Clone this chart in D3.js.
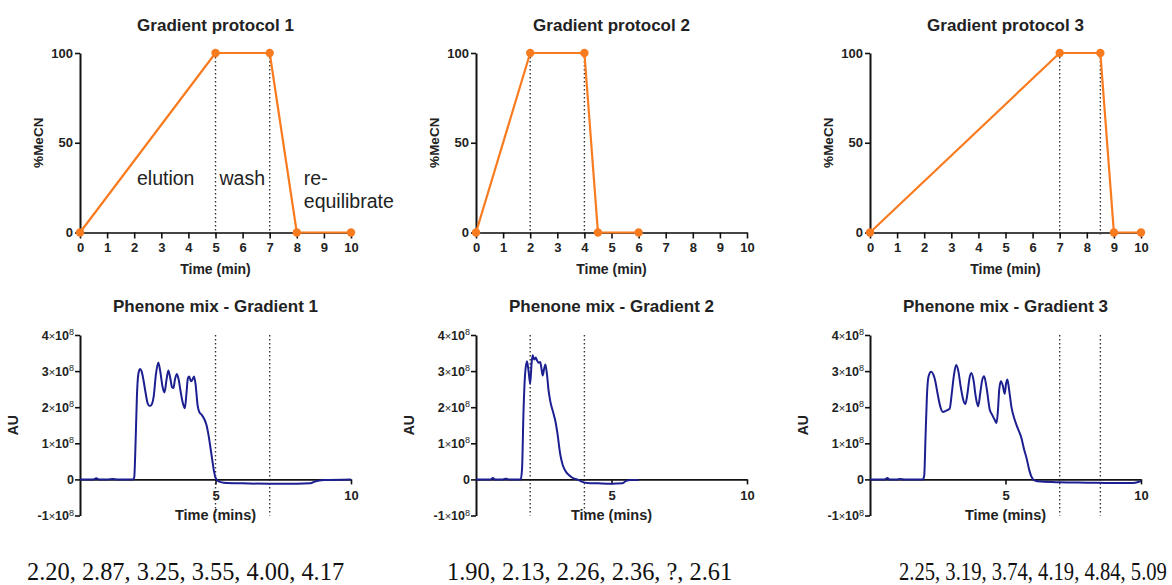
<!DOCTYPE html>
<html><head><meta charset="utf-8">
<script src="https://cdn.jsdelivr.net/npm/d3@7"></script>
<style>body{margin:0;background:#fff} svg{display:block}</style>
</head><body>
<svg id="c" width="1172" height="585"></svg>
<script>
// ---------- DATA ----------
const gradientTitles = ["Gradient protocol 1", "Gradient protocol 2", "Gradient protocol 3"];
const gradient1 = [[0,0],[5,100],[7,100],[8,0],[10,0]];
const gradient2 = [[0,0],[2,100],[4,100],[4.5,0],[6,0]];
const gradient3 = [[0,0],[7,100],[8.5,100],[9,0],[10,0]];
const phaseMarks1 = [5, 7];
const phaseMarks2 = [2, 4];
const phaseMarks3 = [7, 8.5];
const phaseLabels = ["elution", "wash", "re-", "equilibrate"];
const topXTicks = [0,1,2,3,4,5,6,7,8,9,10];
const topYTicks = [0, 50, 100];

const chromTitles = ["Phenone mix - Gradient 1", "Phenone mix - Gradient 2", "Phenone mix - Gradient 3"];
// time (mins), AU in units of 1e8
const chrom1 = [[0,0],[0.5,0],[0.6,0.03],[0.7,0],[1.0,0],[1.2,0.01],[1.4,0],[1.95,0],[2.0,0.05],[2.05,1.0],[2.1,2.3],[2.15,2.9],[2.21,3.06],[2.28,2.98],[2.34,2.76],[2.42,2.4],[2.5,2.1],[2.58,2.03],[2.66,2.1],[2.72,2.3],[2.8,2.9],[2.89,3.24],[2.96,3.0],[3.05,2.55],[3.12,2.41],[3.19,2.75],[3.26,3.02],[3.32,2.85],[3.40,2.55],[3.45,2.53],[3.50,2.75],[3.57,2.92],[3.63,2.8],[3.72,2.4],[3.80,2.1],[3.87,1.97],[3.93,2.4],[3.98,2.8],[4.03,2.85],[4.09,2.72],[4.13,2.74],[4.21,2.85],[4.27,2.6],[4.34,2.05],[4.40,1.87],[4.5,1.78],[4.6,1.65],[4.67,1.5],[4.73,1.28],[4.8,0.95],[4.88,0.54],[4.95,0.2],[5.0,0.05],[5.1,-0.05],[5.3,-0.09],[6,-0.11],[7,-0.12],[8,-0.12],[8.5,-0.11],[8.7,-0.05],[9,-0.02],[10,0]];
const chrom2 = [[0,0],[0.55,0],[0.62,0.04],[0.7,0],[1.0,0],[1.1,0.02],[1.2,0],[1.65,0],[1.7,0.3],[1.75,1.8],[1.81,2.9],[1.88,3.27],[1.94,3.0],[2.0,2.65],[2.05,3.2],[2.09,3.44],[2.13,3.35],[2.16,3.32],[2.2,3.38],[2.25,3.3],[2.31,3.23],[2.37,3.25],[2.42,3.05],[2.46,2.88],[2.51,3.05],[2.56,3.18],[2.62,2.9],[2.68,2.45],[2.74,2.17],[2.85,1.85],[2.93,1.61],[3.0,1.3],[3.11,0.69],[3.2,0.4],[3.3,0.23],[3.48,0.09],[3.6,0.03],[3.73,0],[3.9,-0.06],[4.1,-0.1],[4.5,-0.11],[5.0,-0.12],[5.4,-0.11],[5.52,-0.05],[5.7,-0.02],[6.0,-0.02]];
const chrom3 = [[0,0],[0.55,0],[0.64,0.04],[0.72,0],[1.0,0],[1.1,0.01],[1.3,0],[1.95,0],[2.0,0.1],[2.05,1.2],[2.1,2.3],[2.16,2.85],[2.26,2.98],[2.34,2.9],[2.41,2.72],[2.5,2.35],[2.6,2.0],[2.69,1.87],[2.8,1.9],[2.94,1.96],[3.02,2.4],[3.1,2.9],[3.18,3.17],[3.26,3.0],[3.35,2.55],[3.45,2.18],[3.52,2.09],[3.6,2.4],[3.67,2.8],[3.74,2.95],[3.82,2.75],[3.9,2.3],[3.99,2.02],[4.07,2.4],[4.14,2.75],[4.21,2.86],[4.3,2.55],[4.42,1.93],[4.5,1.8],[4.6,1.65],[4.67,1.56],[4.72,1.9],[4.77,2.5],[4.83,2.72],[4.9,2.6],[4.97,2.37],[5.02,2.65],[5.07,2.77],[5.13,2.5],[5.22,2.0],[5.34,1.65],[5.45,1.42],[5.59,1.14],[5.68,0.85],[5.78,0.58],[5.88,0.25],[5.96,0.07],[6.08,-0.03],[6.3,-0.06],[7,-0.08],[8,-0.09],[9,-0.1],[9.7,-0.1],[9.9,-0.07],[10,-0.04]];
const bottomXTicks = [5, 10];
const bottomYTicks = [-1, 0, 1, 2, 3, 4];
const retentionTimes = ["2.20, 2.87, 3.25, 3.55, 4.00, 4.17", "1.90, 2.13, 2.26, 2.36, ?, 2.61", "2.25, 3.19, 3.74, 4.19, 4.84, 5.09"];

// ---------- LAYOUT ----------
const gradients = [gradient1, gradient2, gradient3];
const marks = [phaseMarks1, phaseMarks2, phaseMarks3];
const chroms = [chrom1, chrom2, chrom3];
const panelLeft = [80, 476, 870];
const panelW = 271;
const textPos = [[27, 1], [447, 1], [899, 0.845]]; // x, horizontal squeeze
const ORANGE = "#F97B1F", NAVY = "#1C1F90", AX = "#111";
const SANS = "'Liberation Sans', Arial, sans-serif";

const svg = d3.select("#c");

function styleAxis(g, fs) {
  g.attr("font-family", SANS).attr("font-size", fs).attr("font-weight", "bold");
  g.selectAll("path.domain").attr("stroke", AX).attr("stroke-width", 2);
  g.selectAll(".tick line").attr("stroke", AX).attr("stroke-width", 1.6);
  g.selectAll(".tick text").attr("fill", "#222");
}

for (let i = 0; i < 3; i++) {
  const L = panelLeft[i];
  // ----- top: gradient protocol -----
  const x = d3.scaleLinear().domain([0, 10]).range([L, L + panelW]);
  const y = d3.scaleLinear().domain([0, 100]).range([232.5, 53]);
  const g = svg.append("g");

  g.append("text").attr("x", L + panelW / 2).attr("y", 31).attr("text-anchor", "middle")
    .attr("font-family", SANS).attr("font-weight", "bold").attr("font-size", 17).attr("fill", "#222")
    .text(gradientTitles[i]);

  g.selectAll("line.mark").data(marks[i]).enter().append("line")
    .attr("x1", d => x(d)).attr("x2", d => x(d))
    .attr("y1", y(100)).attr("y2", y(0) + 4)
    .attr("stroke", "#333").attr("stroke-width", 1.4).attr("stroke-dasharray", "1.4,2.6");

  const gx = g.append("g").attr("transform", `translate(0,${y(0)})`)
    .call(d3.axisBottom(x).tickValues(topXTicks).tickFormat(d3.format("d")).tickSize(6).tickSizeOuter(0).tickPadding(4));
  styleAxis(gx, 13);
  gx.select("path.domain").attr("stroke", "#444");

  const gy = g.append("g").attr("transform", `translate(${L},0)`)
    .call(d3.axisLeft(y).tickValues(topYTicks).tickSize(5).tickSizeOuter(0).tickPadding(2));
  styleAxis(gy, 13);

  g.append("text").attr("x", L + panelW / 2).attr("y", 274).attr("text-anchor", "middle")
    .attr("font-family", SANS).attr("font-weight", "bold").attr("font-size", 14).attr("fill", "#222")
    .text("Time (min)");
  g.append("text").attr("transform", `translate(${L - 37},${(y(0) + y(100)) / 2}) rotate(-90)`)
    .attr("text-anchor", "middle").attr("font-family", SANS).attr("font-weight", "bold")
    .attr("font-size", 13.5).attr("fill", "#222").text("%MeCN");

  const line = d3.line().x(d => x(d[0])).y(d => y(d[1]));
  g.append("path").datum(gradients[i]).attr("d", line).attr("fill", "none")
    .attr("stroke", ORANGE).attr("stroke-width", 2.2).attr("stroke-linejoin", "round");
  g.selectAll("circle").data(gradients[i]).enter().append("circle")
    .attr("cx", d => x(d[0])).attr("cy", d => y(d[1])).attr("r", 4.2).attr("fill", ORANGE);

  if (i === 0) {
    const ann = [[x(0) + 57, 185, phaseLabels[0]], [x(5) + 4, 185, phaseLabels[1]], [x(8) + 7, 185, phaseLabels[2]], [x(8) + 7, 208, phaseLabels[3]]];
    g.selectAll("text.ann").data(ann).enter().append("text")
      .attr("x", d => d[0]).attr("y", d => d[1]).attr("font-family", SANS).attr("font-size", 19.5)
      .attr("fill", "#222").text(d => d[2]);
  }

  // ----- bottom: chromatogram -----
  const xb = d3.scaleLinear().domain([0, 10]).range([L, L + panelW]);
  const yb = d3.scaleLinear().domain([-1, 4]).range([515.5, 335]);
  const h = svg.append("g");

  h.append("text").attr("x", L + panelW / 2).attr("y", 312).attr("text-anchor", "middle")
    .attr("font-family", SANS).attr("font-weight", "bold").attr("font-size", 17).attr("fill", "#222")
    .text(chromTitles[i]);

  h.selectAll("line.mark").data(marks[i]).enter().append("line")
    .attr("x1", d => xb(d)).attr("x2", d => xb(d))
    .attr("y1", yb(4)).attr("y2", yb(-1))
    .attr("stroke", "#333").attr("stroke-width", 1.4).attr("stroke-dasharray", "1.4,2.6");

  const hy = h.append("g").attr("transform", `translate(${L},0)`)
    .call(d3.axisLeft(yb).tickValues(bottomYTicks).tickSize(5).tickSizeOuter(0).tickPadding(1));
  styleAxis(hy, 12.5);
  hy.selectAll(".tick text").each(function (d) {
    const t = d3.select(this);
    t.text(null);
    if (d === 0) { t.text("0"); return; }
    t.append("tspan").text(String(d));
    t.append("tspan").attr("font-weight", "normal").attr("font-size", 11).text("×");
    t.append("tspan").text("10");
    t.append("tspan").attr("font-weight", "normal").attr("font-size", 9).attr("dy", "-0.5em").text("8");
  });

  const hx = h.append("g").attr("transform", `translate(0,${yb(0)})`)
    .call(d3.axisBottom(xb).tickValues(bottomXTicks).tickFormat(d3.format("d")).tickSize(5).tickSizeOuter(0).tickPadding(6));
  styleAxis(hx, 13);
  hx.select("path.domain").attr("stroke-width", 1.6);

  h.append("text").attr("x", L + panelW / 2).attr("y", 520).attr("text-anchor", "middle")
    .attr("font-family", SANS).attr("font-weight", "bold").attr("font-size", 14.5).attr("fill", "#222")
    .text("Time (mins)");
  h.append("text").attr("transform", `translate(${L - 62},${(yb(4) + yb(-1)) / 2}) rotate(-90)`)
    .attr("text-anchor", "middle").attr("font-family", SANS).attr("font-weight", "bold")
    .attr("font-size", 14).attr("fill", "#222").text("AU");

  const lineB = d3.line().x(d => xb(d[0])).y(d => yb(d[1])).curve(d3.curveMonotoneX);
  h.append("path").datum(chroms[i]).attr("d", lineB).attr("fill", "none")
    .attr("stroke", NAVY).attr("stroke-width", 2).attr("stroke-linejoin", "round");

  // retention times
  svg.append("text").attr("transform", `translate(${textPos[i][0]},580) scale(${textPos[i][1]},1)`)
    .attr("font-family", "'Liberation Serif', 'DejaVu Serif', serif").attr("font-size", 24.4)
    .attr("fill", "#111").text(retentionTimes[i]);
}
</script></body></html>
